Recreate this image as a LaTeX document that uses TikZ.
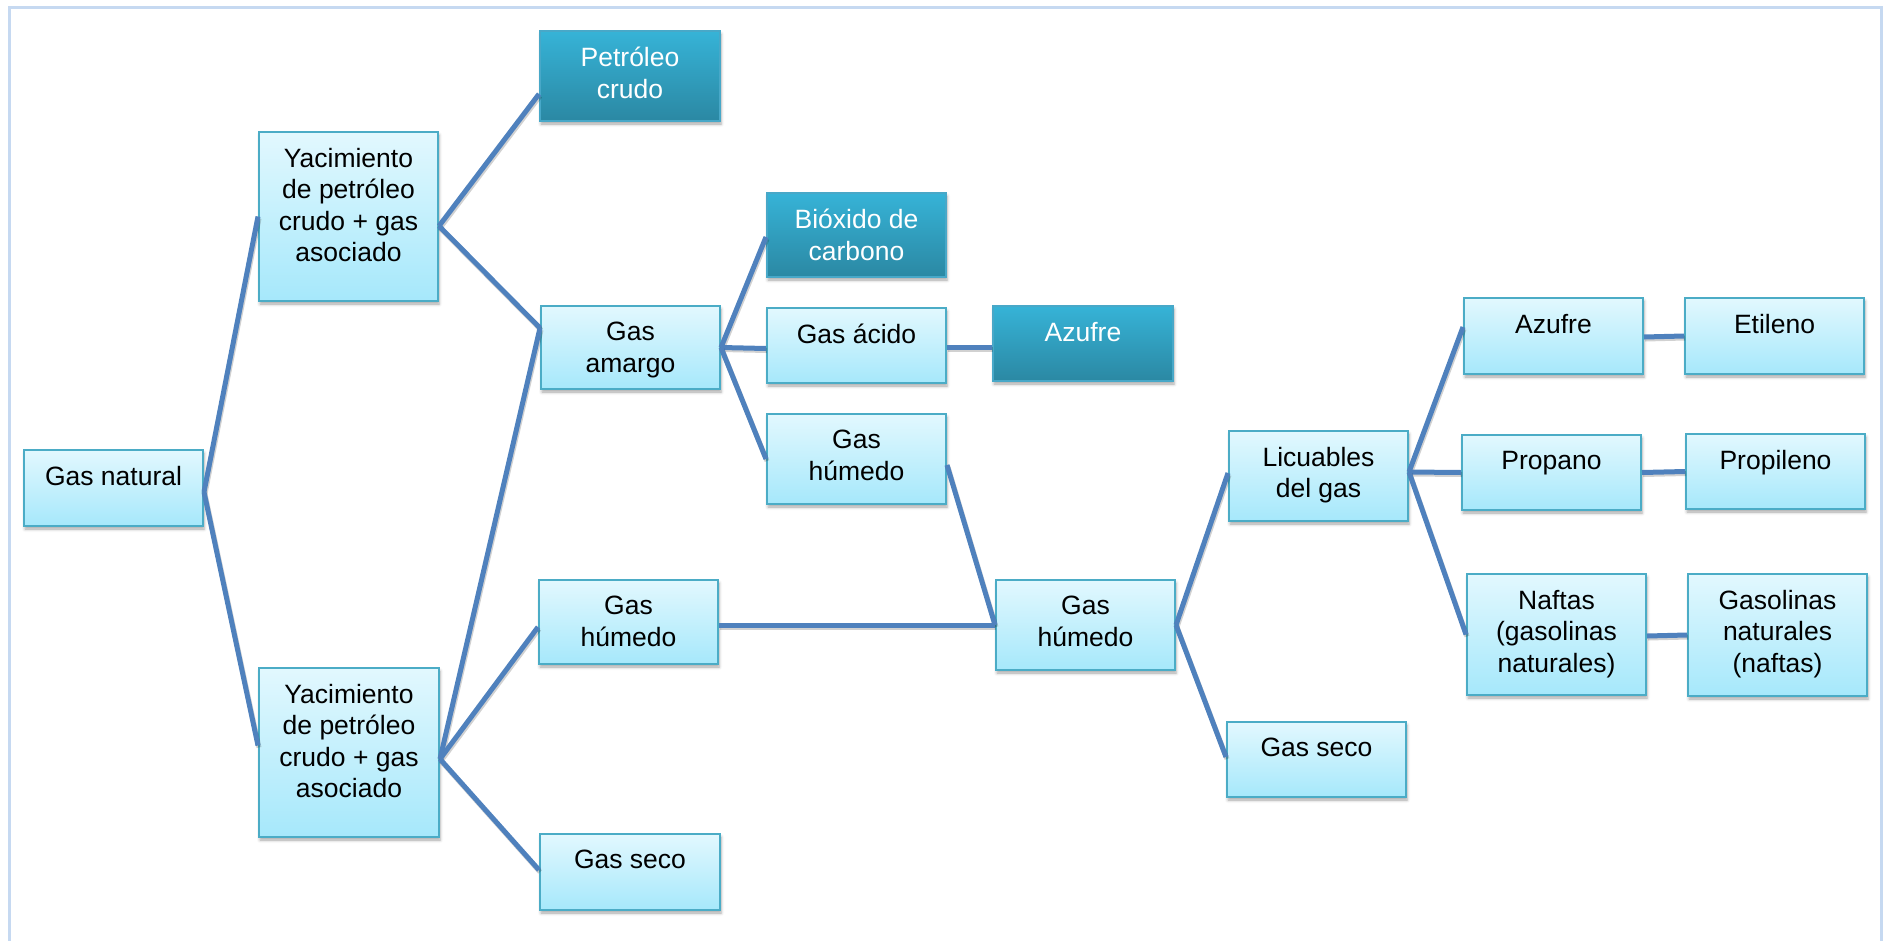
\documentclass[tikz,border=0pt]{standalone}
\usepackage{fontspec}
\setmainfont{Liberation Sans}
\usetikzlibrary{shadows.blur}

\definecolor{lightTop}{RGB}{226,248,254}
\definecolor{lightBot}{RGB}{166,232,251}
\definecolor{boxEdge}{RGB}{75,172,198}
\definecolor{darkTop}{RGB}{54,179,215}
\definecolor{darkBot}{RGB}{43,136,163}
\definecolor{darkEdge}{RGB}{72,168,200}
\definecolor{linkBlue}{RGB}{79,129,189}
\definecolor{frameBlue}{RGB}{198,217,241}

\tikzset{
  boxbase/.style={rectangle, inner sep=0pt, line width=2pt,
    blur shadow={shadow xshift=1pt, shadow yshift=-3pt,
      shadow blur radius=3pt, shadow opacity=35}},
  lightbox/.style={boxbase, draw=boxEdge, top color=lightTop, bottom color=lightBot},
  darkbox/.style={boxbase, draw=darkEdge, top color=darkTop, bottom color=darkBot},
  boxtext/.style={anchor=north, inner sep=0pt, align=center,
    font=\fontsize{26.5}{31.5}\selectfont},
  lightboxtext/.style={text=black},
  darkboxtext/.style={text=white},
  link/.style={draw=linkBlue, line width=5pt,
    preaction={draw=black, opacity=0.18, line width=5pt,
      transform canvas={shift={(1pt,-2pt)}}}},
}

% box with top-aligned text: style, name, left, top, right, bottom, text
\newcommand\mkbox[7]{%
  \node[#1, minimum width={#5-#3-2}, minimum height={#6-#4-2}]
    (#2) at ({(#3+#5)/2},{(#4+#6)/2}) {};
  \node[boxtext, #1text] (#2-t) at ([yshift=-17pt]#2.north) {#7};
}

\begin{document}
\begin{tikzpicture}[x=1pt, y=-1pt]
  \useasboundingbox (0,0) rectangle (1885,940);

  % outer frame
  \draw[frameBlue, line width=3pt] (9.5,960) -- (9.5,7.5) -- (1881.5,7.5) -- (1881.5,960);

  % boxes
  \mkbox{lightbox}{gn}{23}{449}{204}{527}{Gas natural}
  \mkbox{lightbox}{yac1}{258}{131}{439}{302}{Yacimiento\\de petróleo\\crudo + gas\\asociado}
  \mkbox{lightbox}{yac2}{258}{667}{440}{838}{Yacimiento\\de petróleo\\crudo + gas\\asociado}
  \mkbox{darkbox}{petro}{539}{30}{721}{122}{Petróleo\\crudo}
  \mkbox{lightbox}{gam}{540}{305}{721}{390}{Gas\\amargo}
  \mkbox{lightbox}{ghl}{538}{579}{719}{665}{Gas\\húmedo}
  \mkbox{lightbox}{gsl}{539}{833}{721}{911}{Gas seco}
  \mkbox{darkbox}{biox}{766}{192}{947}{278}{Bióxido de\\carbono}
  \mkbox{lightbox}{gac}{766}{307}{947}{384}{Gas ácido}
  \mkbox{darkbox}{azd}{992}{305}{1174}{382}{Azufre}
  \mkbox{lightbox}{ghm}{766}{413}{947}{505}{Gas\\húmedo}
  \mkbox{lightbox}{ghc}{995}{579}{1176}{671}{Gas\\húmedo}
  \mkbox{lightbox}{lic}{1228}{430}{1409}{522}{Licuables\\del gas}
  \mkbox{lightbox}{gsr}{1226}{721}{1407}{798}{Gas seco}
  \mkbox{lightbox}{azl}{1463}{297}{1644}{375}{Azufre}
  \mkbox{lightbox}{eti}{1684}{297}{1865}{375}{Etileno}
  \mkbox{lightbox}{pro}{1461}{434}{1642}{511}{Propano}
  \mkbox{lightbox}{prl}{1685}{433}{1866}{510}{Propileno}
  \mkbox{lightbox}{naf}{1466}{573}{1647}{696}{Naftas\\(gasolinas\\naturales)}
  \mkbox{lightbox}{gsn}{1687}{573}{1868}{697}{Gasolinas\\naturales\\(naftas)}

  % connectors
  \draw[link] ([yshift=-4pt]gn.east) -- (yac1.west);
  \draw[link] ([yshift=-4pt]gn.east) -- ([yshift=7pt]yac2.west);

  \draw[link] ([yshift=-9.5pt]yac1.east) -- ([yshift=-18pt]petro.west);
  \draw[link] ([yshift=-9.5pt]yac1.east) -- ([yshift=19.5pt]gam.west);

  \draw[link] ([yshift=-6.5pt]yac2.east) -- ([yshift=19.5pt]gam.west);
  \draw[link] ([yshift=-6.5pt]yac2.east) -- ([yshift=-5pt]ghl.west);
  \draw[link] ([yshift=-6.5pt]yac2.east) -- ([yshift=2pt]gsl.west);

  \draw[link] (gam.east) -- ([yshift=-2pt]biox.west);
  \draw[link] (gam.east) -- ([yshift=-3pt]gac.west);
  \draw[link] (gam.east) -- (ghm.west);
  \draw[link] ([yshift=-1.5pt]gac.east) -- ([yshift=-3.5pt]azd.west);

  \draw[link] ([yshift=-6pt]ghm.east) -- (ghc.west);
  \draw[link] ([yshift=-3pt]ghl.east) -- (ghc.west);

  \draw[link] (ghc.east) -- ([yshift=3pt]lic.west);
  \draw[link] (ghc.east) -- ([yshift=2.5pt]gsr.west);

  \draw[link] ([yshift=4pt]lic.east) -- ([yshift=9pt]azl.west);
  \draw[link] ([yshift=4pt]lic.east) -- (pro.west);
  \draw[link] ([yshift=4pt]lic.east) -- (naf.west);

  \draw[link] ([yshift=-1pt]azl.east) -- (eti.west);
  \draw[link] (pro.east) -- (prl.west);
  \draw[link] ([yshift=-1.5pt]naf.east) -- (gsn.west);
\end{tikzpicture}
\end{document}
